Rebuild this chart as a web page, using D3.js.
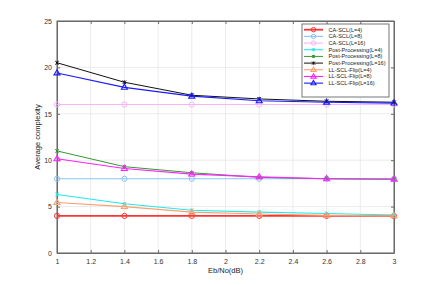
<!DOCTYPE html>
<html><head><meta charset="utf-8">
<script src="https://cdn.jsdelivr.net/npm/d3@7"></script>
<style>body{margin:0;background:#fff}svg{display:block}text{font-family:"Liberation Sans",Arial,sans-serif}</style>
</head><body><svg id="c" width="436" height="285"></svg>
<script>
const xValues = [1, 1.4, 1.8, 2.2, 2.6, 3];
const seriesNames = ["CA-SCL(L=4)","CA-SCL(L=8)","CA-SCL(L=16)","Post-Processing(L=4)","Post-Processing(L=8)","Post-Processing(L=16)","LL-SCL-Flip(L=4)","LL-SCL-Flip(L=8)","LL-SCL-Flip(L=16)"];
const caScl4 = [4, 4, 4, 4, 4, 4];
const caScl8 = [8, 8, 8, 8, 8, 8];
const caScl16 = [16, 16, 16, 16, 16, 16];
const pp4 = [6.3, 5.3, 4.6, 4.4, 4.25, 4.1];
const pp8 = [11.0, 9.3, 8.65, 8.15, 8.0, 7.95];
const pp16 = [20.5, 18.4, 17.0, 16.6, 16.35, 16.25];
const ll4 = [5.45, 5.0, 4.4, 4.2, 4.05, 4.0];
const ll8 = [10.15, 9.1, 8.5, 8.2, 8.0, 7.95];
const ll16 = [19.4, 17.85, 16.9, 16.4, 16.25, 16.15];
const xTicks = [1, 1.2, 1.4, 1.6, 1.8, 2, 2.2, 2.4, 2.6, 2.8, 3];
const yTicks = [0, 5, 10, 15, 20, 25];
const xLabel = "Eb/No(dB)";
const yLabel = "Average complexity";

const seriesValues = [caScl4, caScl8, caScl16, pp4, pp8, pp16, ll4, ll8, ll16];
const colors = ["#ff3333","#88c4f4","#f8b4f4","#22e8e8","#339933","#111111","#f7a072","#ff22ff","#1a1aff"];
const markers = ["circle","circle","circle","star","star","star","tri","tri","tri"];
const widths = [1.8,1.1,1.1,1.1,1.0,1.0,1.1,1.1,1.1];

const svg = d3.select("#c");
const L = 57, R = 394, T = 21, B = 253;
const x = d3.scaleLinear().domain([1,3]).range([L,R]);
const y = d3.scaleLinear().domain([0,25]).range([B,T]);

// grid
const g = svg.append("g");
g.selectAll(".gx").data(xTicks).join("line").attr("x1",d=>x(d)).attr("x2",d=>x(d)).attr("y1",T).attr("y2",B).attr("stroke","#e6e6e6").attr("stroke-width",0.8);
g.selectAll(".gy").data(yTicks).join("line").attr("x1",L).attr("x2",R).attr("y1",d=>y(d)).attr("y2",d=>y(d)).attr("stroke","#e6e6e6").attr("stroke-width",0.8);

// axes
const axisColor = "#6b6b6b";
function styleAxis(sel){ sel.selectAll("path").attr("stroke",axisColor); sel.selectAll("line").attr("stroke",axisColor); sel.selectAll("text").attr("fill","#333").attr("font-size","7px"); }
svg.append("g").attr("transform",`translate(0,${B})`).call(d3.axisBottom(x).tickValues(xTicks).tickSize(-3).tickSizeOuter(0).tickPadding(6).tickFormat(d3.format("~g"))).call(styleAxis);
svg.append("g").attr("transform",`translate(${L},0)`).call(d3.axisLeft(y).tickValues(yTicks).tickSize(-3).tickSizeOuter(0).tickPadding(5)).call(styleAxis);
svg.append("g").attr("transform",`translate(0,${T})`).call(d3.axisTop(x).tickValues(xTicks).tickSize(-3).tickSizeOuter(0).tickFormat("")).call(styleAxis);
svg.append("g").attr("transform",`translate(${R},0)`).call(d3.axisRight(y).tickValues(yTicks).tickSize(-3).tickSizeOuter(0).tickFormat("")).call(styleAxis);
svg.append("rect").attr("x",L).attr("y",T).attr("width",R-L).attr("height",B-T).attr("fill","none").attr("stroke",axisColor).attr("stroke-width",1);

svg.append("text").attr("x",(L+R)/2).attr("y",273).attr("text-anchor","middle").attr("font-size","7.5px").attr("fill","#222").text(xLabel);
svg.append("text").attr("transform",`translate(40,${(T+B)/2}) rotate(-90)`).attr("text-anchor","middle").attr("font-size","7.5px").attr("fill","#222").text(yLabel);

function drawMarker(sel, type, color, cx, cy, s){
  if(type==="circle"){
    sel.append("circle").attr("cx",cx).attr("cy",cy).attr("r",2.6*s).attr("fill","none").attr("stroke",color).attr("stroke-width",1);
  } else if(type==="tri"){
    const r = 3.2*s;
    sel.append("path").attr("d",`M${cx},${cy-r}L${cx+r*0.95},${cy+r*0.6}L${cx-r*0.95},${cy+r*0.6}Z`).attr("fill","none").attr("stroke",color).attr("stroke-width",1.1);
  } else {
    const r = 1.8*s;
    sel.append("path").attr("d",`M${cx-r},${cy-r}L${cx+r},${cy+r}M${cx-r},${cy+r}L${cx+r},${cy-r}M${cx},${cy-r}L${cx},${cy+r}`).attr("stroke",color).attr("stroke-width",1);
  }
}

const line = d3.line().x((d,i)=>x(xValues[i])).y(d=>y(d));
const plot = svg.append("g");
seriesValues.forEach((vals,k)=>{
  plot.append("path").datum(vals).attr("d",line).attr("fill","none").attr("stroke",colors[k]).attr("stroke-width",widths[k]);
  vals.forEach((v,i)=>drawMarker(plot, markers[k], colors[k], x(xValues[i]), y(v), 1));
});

// legend
const lg = svg.append("g");
lg.append("rect").attr("x",302).attr("y",24).attr("width",87).attr("height",73).attr("fill","#fff").attr("stroke","#555").attr("stroke-width",0.8);
seriesNames.forEach((name,k)=>{
  const yy = 29.7 + k*6.68;
  lg.append("line").attr("x1",304).attr("x2",323).attr("y1",yy).attr("y2",yy).attr("stroke",colors[k]).attr("stroke-width",widths[k]);
  drawMarker(lg, markers[k], colors[k], 313.5, yy, 0.85);
  lg.append("text").attr("x",328.5).attr("y",yy+2).attr("font-size","5.6px").attr("fill","#222").text(name);
});
</script></body></html>
